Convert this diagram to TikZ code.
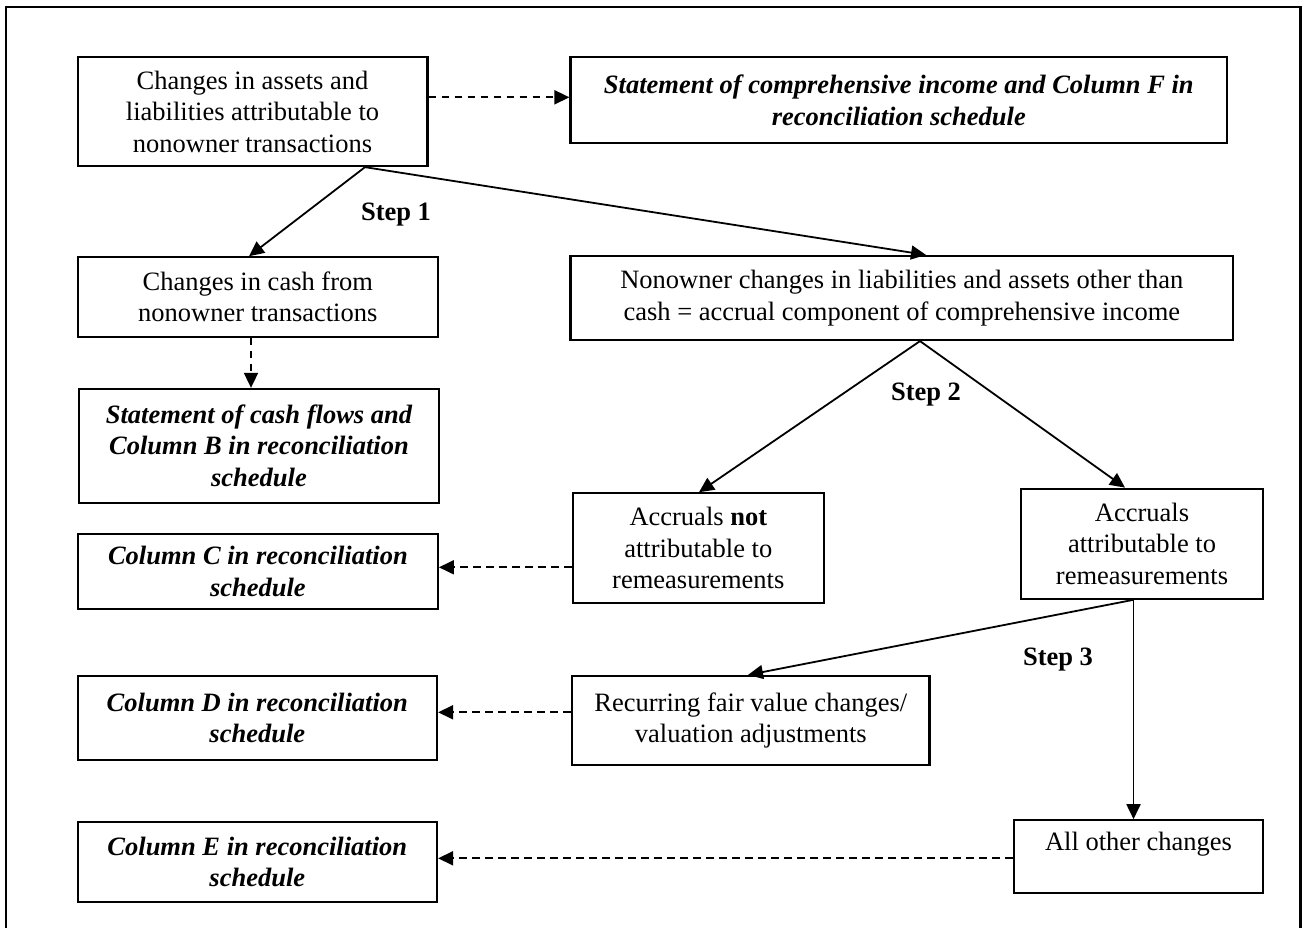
\documentclass[tikz,border=0pt]{standalone}
\usepackage{fontspec}
\setmainfont{Liberation Serif}
\usetikzlibrary{arrows.meta,calc}
\tikzset{
  box/.style={draw,line width=2.2pt,inner sep=0pt,align=center,font=\fontsize{26.5}{31.5}\selectfont},
  ibox/.style={box,font=\fontsize{26.5}{31.5}\selectfont\bfseries\itshape},
  solidarrow/.style={line width=1.8pt,-{Triangle[length=15pt,width=14pt]}},
  dasharrow/.style={line width=1.8pt,dash pattern=on 7.5pt off 5.5pt,-{Triangle[length=15pt,width=14pt]}},
  steplabel/.style={font=\fontsize{26.5}{31.5}\selectfont\bfseries,inner sep=0pt}
}
\begin{document}
\begin{tikzpicture}[x=1pt,y=-1pt]
\useasboundingbox (0,0) rectangle (1303,928);
\draw[line width=2.2pt] (5.8,928) -- (5.8,7.3) -- (1300.5,7.3) -- (1300.5,928);

\node[box,minimum width=349.8pt,minimum height=108.7pt] (b1) at (252.5,111.7)
  {Changes in assets and\\liabilities attributable to\\nonowner transactions};
\node[ibox,minimum width=656.5pt,minimum height=86pt] (b2) at (898.8,100.3)
  {Statement of comprehensive income and Column F in\\reconciliation schedule};
\node[box,minimum width=360.4pt,minimum height=79.4pt] (b3) at (257.8,297)
  {Changes in cash from\\nonowner transactions};
\node[box,minimum width=662.5pt,minimum height=84pt] (b4) at (901.8,298)
  {Nonowner changes in liabilities and assets other than\\cash = accrual component of comprehensive income};
\node[ibox,minimum width=360pt,minimum height=113.7pt] (b5) at (259,445.8)
  {Statement of cash flows and\\Column B in reconciliation\\schedule};
\node[ibox,minimum width=359.8pt,minimum height=75.6pt] (b6) at (257.9,571.5)
  {Column C in reconciliation\\schedule};
\node[box,minimum width=250.6pt,minimum height=109.4pt] (b7) at (698.3,548)
  {Accruals \textbf{not}\\attributable to\\remeasurements};
\node[box,minimum width=242pt,minimum height=110pt] (b8) at (1142,543.7)
  {Accruals\\attributable to\\remeasurements};
\node[ibox,minimum width=359.4pt,minimum height=84pt] (b9) at (257.3,718)
  {Column D in reconciliation\\schedule};
\node[box,minimum width=357.5pt,minimum height=89pt] (b10) at (750.8,720.5)
  {Recurring fair value changes/\\valuation adjustments};
\node[ibox,minimum width=359.4pt,minimum height=80.3pt] (b11) at (257.3,861.8)
  {Column E in reconciliation\\schedule};
\node[box,minimum width=249pt,minimum height=73pt] (b12) at (1138.5,856.8)
  {All other changes\\\mbox{}};

\node[steplabel] (s1) at (396,215) {Step 1};
\node[steplabel] (s2) at (926,395) {Step 2};
\node[steplabel] (s3) at (1058,660) {Step 3};

% dashed connectors
\coordinate (d1) at ([yshift=14.4pt]b1.east);
\draw[dasharrow] (d1) -- (d1 -| b2.west);
\coordinate (d3) at ([xshift=-6.8pt]b3.south);
\draw[dasharrow] (d3) -- (d3 |- b5.north);
\coordinate (d7) at ([yshift=-19.3pt]b7.west);
\draw[dasharrow] (d7) -- (d7 -| b6.east);
\coordinate (d10) at ([yshift=8.2pt]b10.west);
\draw[dasharrow] (d10) -- (d10 -| b9.east);
\coordinate (d12) at ([yshift=-1.5pt]b12.west);
\draw[dasharrow] (d12) -- (d12 -| b11.east);

% solid connectors
\coordinate (o1) at ([xshift=112.5pt]b1.south);
\draw[solidarrow] (o1) -- ([xshift=-8.8pt]b3.north);
\draw[solidarrow] (o1) -- ([xshift=24.2pt]b4.north);
\coordinate (o4) at ([xshift=18.2pt]b4.south);
\draw[solidarrow] (o4) -- ([xshift=0.7pt]b7.north);
\draw[solidarrow] (o4) -- ([xshift=-17pt]b8.north);
\coordinate (o8) at ([xshift=-8.5pt]b8.south);
\draw[solidarrow] (o8) -- ([xshift=-2.8pt]b10.north);
\draw[solidarrow] (o8) -- (o8 |- b12.north);
\end{tikzpicture}
\end{document}
